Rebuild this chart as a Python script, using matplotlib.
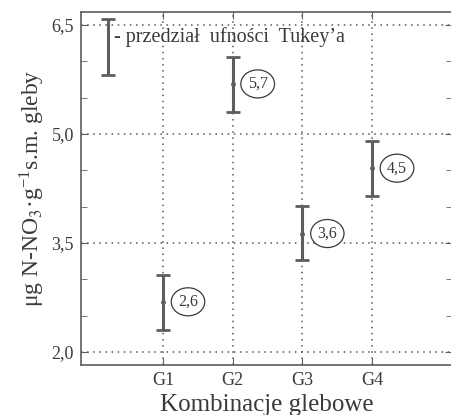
import numpy as np
import matplotlib
matplotlib.use("Agg")
import matplotlib.pyplot as plt

# data
groups = ["G1", "G2", "G3", "G4"]
means = [2.69, 5.69, 3.63, 4.53]
lower = [2.30, 5.31, 3.26, 4.15]
upper = [3.06, 6.06, 4.01, 4.91]
labels = ["2,6", "5,7", "3,6", "4,5"]

legend_x = 0.21
legend_lo = 5.81
legend_hi = 6.58

yticks = [2.0, 3.5, 5.0, 6.5]
yticklabels = ["2,0", "3,5", "5,0", "6,5"]
yminor = [2.5, 3.0, 4.0, 4.5, 5.5, 6.0]

plt.rcParams["font.family"] = ["Liberation Serif", "DejaVu Serif"]
plt.rcParams["mathtext.fontset"] = "stix"

ink = "#3a3a3a"
grey = "#5e5e5e"

fig = plt.figure(figsize=(4.51, 4.15), dpi=100)
ax = fig.add_axes([0.1796, 0.1205, 0.8226, 0.8506])

x = np.arange(1, len(groups) + 1)
means = np.array(means)
yerr = [means - np.array(lower), np.array(upper) - means]

ax.errorbar(x, means, yerr=yerr, fmt="o", ms=2.5, color=grey,
            ecolor=grey, elinewidth=2.2, capsize=4.8, capthick=2.0, zorder=3)

# legend bar
ax.errorbar([legend_x], [(legend_lo + legend_hi) / 2],
            yerr=[[(legend_hi - legend_lo) / 2]], fmt="none",
            ecolor=grey, elinewidth=2.2, capsize=4.8, capthick=2.0, zorder=3)
ax.text(legend_x + 0.09, 6.33, "- przedział  ufności  Tukey’a", fontsize=14.5,
        color=ink, ha="left", va="center", zorder=4)

for xi, m, lab in zip(x, means, labels):
    ax.annotate(lab, (xi, m), xytext=(18, 0), textcoords="offset points",
                ha="center", va="center", fontsize=11.5, color=ink,
                bbox=dict(boxstyle="ellipse,pad=0.12", fc="white",
                          ec=ink, lw=0.9), zorder=4)

ax.set_xlim(-0.177, 5.148)
ax.set_ylim(1.82, 6.68)

ax.set_xticks(x)
ax.set_xticklabels(groups)
ax.set_yticks(yticks)
ax.set_yticklabels(yticklabels)
ax.set_yticks(yminor, minor=True)

ax.grid(True, which="major", linestyle=(0, (1, 3)), color="#555555", lw=1.1)
ax.tick_params(axis="both", which="both", direction="in", colors=grey,
               labelcolor=ink, labelsize=13, top=True, right=True)
ax.tick_params(axis="both", which="major", length=5, pad=5)
ax.tick_params(axis="y", which="minor", length=4)

for s in ax.spines.values():
    s.set_color(grey)
    s.set_linewidth(1.2)

ax.set_xlabel("Kombinacje glebowe", fontsize=18, color=ink, labelpad=4)
ax.set_ylabel(r"μg N-NO$_3$·g$^{\mathregular{-1}}$s.m. gleby", fontsize=17,
              color=ink, labelpad=3)

fig.savefig("out.png", dpi=100)
